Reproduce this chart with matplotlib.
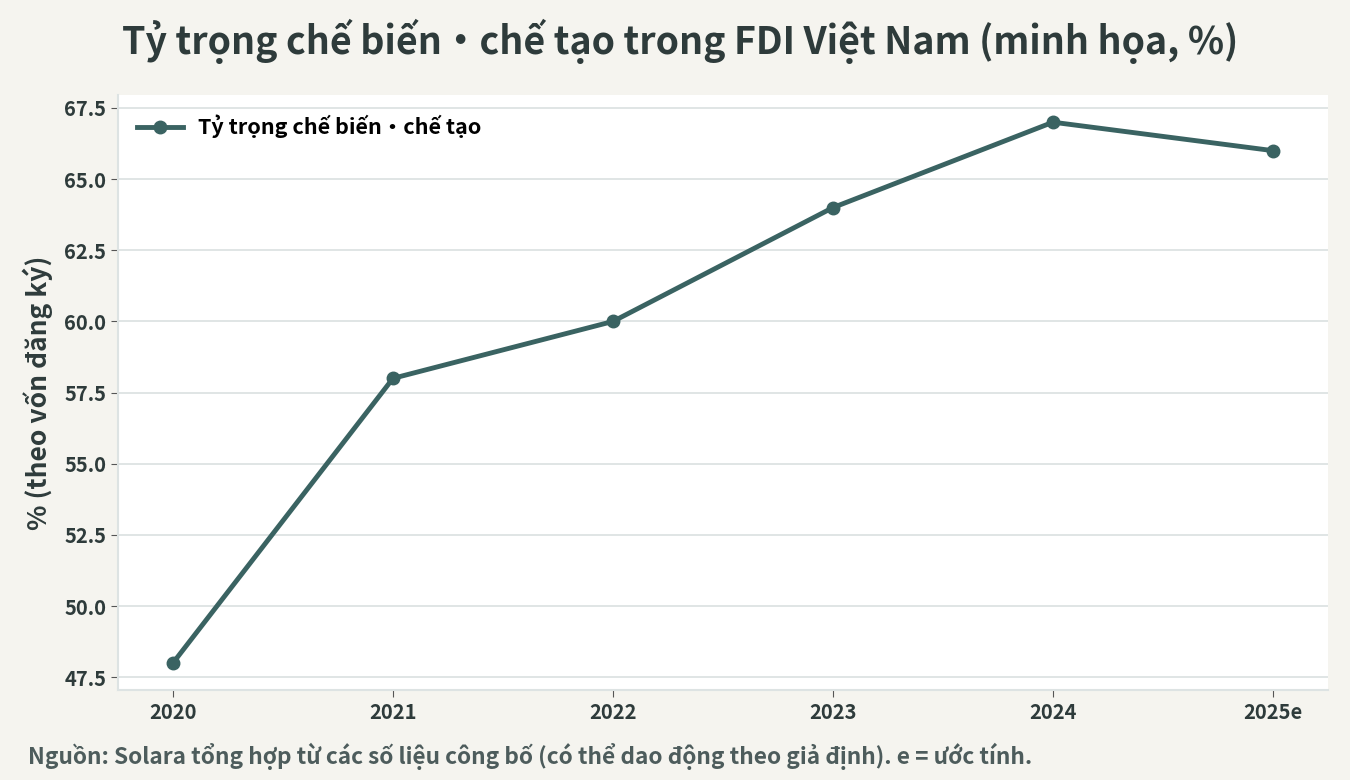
import matplotlib
matplotlib.use("Agg")
import matplotlib.pyplot as plt

# === Données ===
years = ["2020", "2021", "2022", "2023", "2024", "2025e"]
share = [48, 58, 60, 64, 67, 66]
series_name = "Tỷ trọng chế biến・chế tạo"

plt.rcParams['font.family'] = ['Noto Sans CJK SC', 'DejaVu Sans']
plt.rcParams['font.weight'] = 'bold'

dark = "#2e3b3b"
line_col = "#3a6362"
grid_col = "#dde3e3"

fig = plt.figure(figsize=(13.5, 7.8), dpi=100, facecolor="#f5f4ef")
ax = fig.add_axes([0.0874, 0.1154, 0.8963, 0.7626])
ax.set_facecolor("white")

x = list(range(len(years)))
ax.plot(x, share, color=line_col, lw=3.5, marker="o", ms=9, label=series_name)

ax.set_xticks(x)
ax.set_xticklabels(years)
ax.grid(axis="y", color=grid_col, lw=1.3)
ax.set_axisbelow(True)
for s in ["top", "right"]:
    ax.spines[s].set_visible(False)
for s in ["left", "bottom"]:
    ax.spines[s].set_color(grid_col)
    ax.spines[s].set_linewidth(1.5)
ax.tick_params(colors=dark, labelsize=14.5, length=5)
ax.tick_params(color="#555555")
ax.yaxis.set_major_formatter(matplotlib.ticker.FormatStrFormatter("%.1f"))
ax.set_ylabel("% (theo vốn đăng ký)", fontsize=19, color=dark, fontweight="bold", labelpad=8)

leg = ax.legend(loc="upper left", frameon=False, fontsize=15.5,
                handlelength=2.1, handletextpad=0.7)
for t in leg.get_texts():
    t.set_color("black")

fig.suptitle("Tỷ trọng chế biến・chế tạo trong FDI Việt Nam (minh họa, %)",
             fontsize=27, fontweight="bold", color=dark, x=0.504, y=0.976)
fig.text(0.021, 0.02, "Nguồn: Solara tổng hợp từ các số liệu công bố (có thể dao động theo giả định). e = ước tính.",
         fontsize=16.3, color="#4d5c5c", fontweight="bold")

fig.savefig("out.png", dpi=100, facecolor=fig.get_facecolor())
